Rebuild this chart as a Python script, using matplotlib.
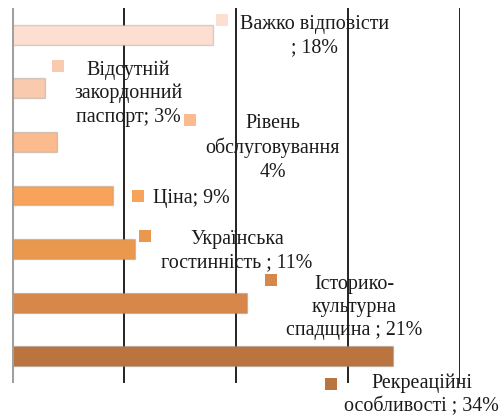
import matplotlib
matplotlib.use("Agg")
import matplotlib.pyplot as plt
import matplotlib.transforms as mtransforms
from matplotlib import font_manager

categories = ["Важко відповісти", "Відсутній закордонний паспорт", "Рівень обслуговування",
              "Ціна", "Українська гостинність", "Історико-культурна спадщина",
              "Рекреаційні особливості"]
values = [18, 3, 4, 9, 11, 21, 34]
label_texts = ["Важко відповісти\n; 18%", "Відсутній\nзакордонний\nпаспорт; 3%",
               "Рівень\nобслуговування\n4%", "Ціна; 9%", "Українська\nгостинність ; 11%",
               "Історико-\nкультурна\nспадщина ; 21%", "Рекреаційні\nособливості ; 34%"]
colors = ["#FCDFD0", "#FACAAE", "#FBBB8E", "#F8A25A", "#EA984E", "#D8874A", "#B97440"]
ticks = [0, 10, 20, 30, 40]

# label layout offsets (pixels, screen-down positive) relative to bar end
marker_off = [(9, -15), (13, -22), (133, -22), (25, 0), (10, -13), (24, -23), (-62, 28)]
text_off = [(101, 1), (83, 5), (216, 6), (78.5, 3), (102, 2.5), (107, 5), (29, 38.5)]

serif_names = {f.name for f in font_manager.fontManager.ttflist}
fam = [n for n in ["Liberation Serif", "Times New Roman", "DejaVu Serif"] if n in serif_names]
plt.rcParams["font.family"] = "serif"
plt.rcParams["font.serif"] = fam

fig = plt.figure(figsize=(5.02, 4.17), dpi=100)
ax = fig.add_axes([11.7 / 502, (417 - 383) / 417, (460 - 11.7) / 502, 375 / 417])

y = list(range(len(categories)))
ax.barh(y, values, height=0.37, color=colors, edgecolor=(0.55, 0.55, 0.55, 0.35), linewidth=1.0, zorder=3)
ax.set_xlim(0, 40)
ax.set_ylim(len(categories) - 0.5, -0.5)

for t in ticks[1:]:
    ax.axvline(t, color="#222222", linewidth=1.4, zorder=1)
ax.axvline(0, color="#A0A0A0", linewidth=2.2, zorder=4)

for s in ax.spines.values():
    s.set_visible(False)
ax.set_xticks([])
ax.set_yticks([])

for i, (v, txt, c) in enumerate(zip(values, label_texts, colors)):
    mdx, mdy = marker_off[i]
    tr = ax.transData + mtransforms.ScaledTranslation(mdx / 100, -mdy / 100, fig.dpi_scale_trans)
    ax.plot([v], [i], marker="s", markersize=8.6, color=c, markeredgewidth=0,
            transform=tr, clip_on=False, zorder=5)
    tdx, tdy = text_off[i]
    ax.annotate(txt, xy=(v, i), xycoords="data", xytext=(tdx * 0.72, -tdy * 0.72),
                textcoords="offset points", ha="center", va="center", multialignment="center",
                fontsize=14.4, color="#1a1a1a",
                linespacing=1.3, annotation_clip=False, zorder=6)

fig.savefig("out.png", dpi=100)
